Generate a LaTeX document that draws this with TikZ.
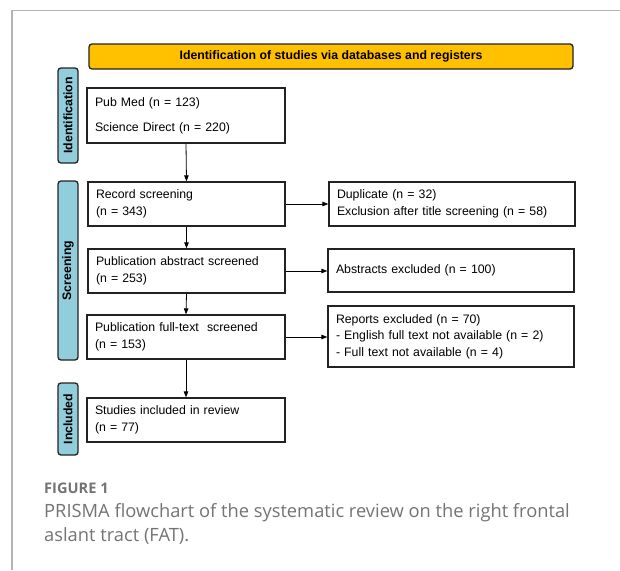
\documentclass[tikz,border=0pt]{standalone}
\usepackage{fontspec}
\setmainfont{Liberation Sans}
\newfontfamily\capfont{Open Sans}
\usetikzlibrary{arrows.meta}
\definecolor{hdrorange}{HTML}{FFC000}
\definecolor{lblblue}{HTML}{92CDDC}
\definecolor{edgedark}{HTML}{222222}
\definecolor{framegray}{HTML}{B4B4B4}
\definecolor{capgray}{HTML}{737373}
\tikzset{
  boxtext/.style={font=\fontsize{12.3}{16.5}\selectfont},
  flowbox/.style={draw=edgedark, line width=1.3pt, inner xsep=8pt, inner ysep=0pt, align=left, anchor=center, boxtext},
  sidelabel/.style={draw=edgedark, line width=1.3pt, fill=lblblue, rounded corners=3pt, rotate=90, inner sep=0pt, minimum height=20pt, font=\bfseries\fontsize{12.3}{14}\selectfont},
  header/.style={draw=edgedark, line width=1.3pt, fill=hdrorange, rounded corners=3pt, inner sep=0pt, font=\bfseries\fontsize{12.3}{14}\selectfont},
  flowarrow/.style={draw=black, line width=0.8pt, -{Triangle[length=6pt,width=4.5pt]}},
}
\begin{document}
\begin{tikzpicture}[x=1pt,y=-1pt]
\useasboundingbox (0,0) rectangle (620,570);
% outer frame
\draw[framegray, line width=1.2pt] (12,570) -- (12,10.5) -- (620,10.5);
% header
\node[header, minimum width=484pt, minimum height=25pt] (hdr) at (331,56.5) {Identification of studies via databases and registers};
% side labels
\node[sidelabel, minimum width=95pt] (lid) at (68,115.5) {Identification};
\node[sidelabel, minimum width=179pt] (lscr) at (68,270.5) {Screening};
\node[sidelabel, minimum width=72pt] (linc) at (68,419) {Included};
% left column boxes
\node[flowbox, text width=182pt, minimum height=55pt] (pub) at (186,115.5) {Pub Med (n = 123)\\[8.5pt]Science Direct (n = 220)};
\node[flowbox, text width=181pt, minimum height=44pt] (rec) at (186.5,204) {Record screening\\(n = 343)};
\node[flowbox, text width=181pt, minimum height=44pt] (abs) at (186.5,271) {Publication abstract screened\\(n = 253)};
\node[flowbox, text width=182pt, minimum height=44pt] (full) at (186,337) {Publication full-text\ \ screened\\(n = 153)};
\node[flowbox, text width=182pt, minimum height=44pt] (inc) at (186,420) {Studies included in review\\(n = 77)};
% right column boxes
\node[flowbox, text width=230pt, minimum height=44pt] (dup) at (452,204) {Duplicate (n = 32)\\Exclusion after title screening (n = 58)};
\node[flowbox, text width=230pt, minimum height=43pt] (absx) at (451,270.5) {Abstracts excluded (n = 100)};
\node[flowbox, text width=230pt, minimum height=61pt] (rep) at (451,336.5) {Reports excluded (n = 70)\\- English full text not available (n = 2)\\- Full text not available (n = 4)};
% vertical arrows
\draw[flowarrow] (pub.south) -- (rec.north);
\draw[flowarrow] (rec.south) -- (abs.north);
\draw[flowarrow] (abs.south) -- (full.north);
\draw[flowarrow] (full.south) -- (inc.north);
% horizontal arrows
\draw[flowarrow] (rec.east) -- (rec.east -| dup.west);
\draw[flowarrow] (abs.east) -- (abs.east -| absx.west);
\draw[flowarrow] (full.east) -- (full.east -| rep.west);
% caption
\node[anchor=base west, inner sep=0pt, text=capgray, font=\capfont\bfseries\fontsize{14.6}{16}\selectfont] (fig) at (44,493) {FIGURE 1};
\node[anchor=base west, inner sep=0pt, text=capgray, font=\capfont\fontsize{18.3}{24}\selectfont, align=left] (cap) at (44,541) {PRISMA flowchart of the systematic review on the right frontal\\aslant tract (FAT).};
\end{tikzpicture}
\end{document}
